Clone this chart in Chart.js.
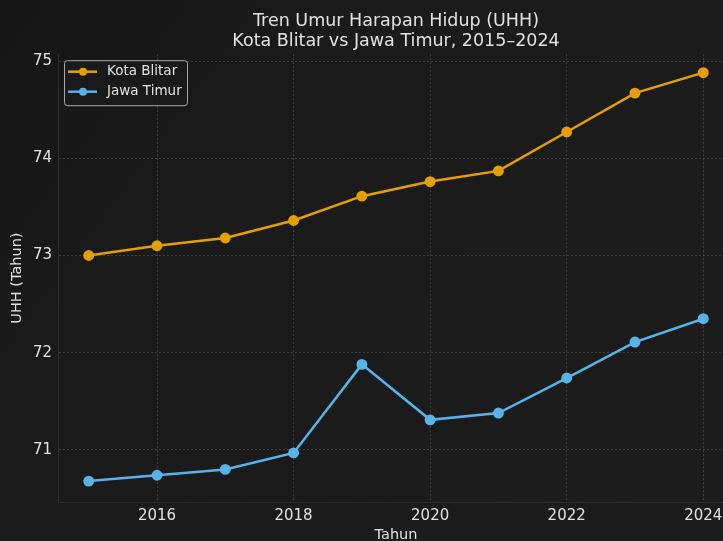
<!DOCTYPE html>
<html>
<head>
<meta charset="utf-8">
<title>Tren UHH Kota Blitar vs Jawa Timur</title>
<script src="https://cdn.jsdelivr.net/npm/chart.js@4.4.1/dist/chart.umd.min.js"></script>
<style>
  html, body { margin: 0; padding: 0; background: #1b1b1b; overflow: hidden; }
  #wrap { position: relative; width: 760px; height: 560px; }
</style>
</head>
<body>
<div id="wrap"><canvas id="uhhChart" width="760" height="560"></canvas></div>
<script>
// Data UHH (tahun)
const tahun = [2015, 2016, 2017, 2018, 2019, 2020, 2021, 2022, 2023, 2024];
const uhhBlitar = [73.00, 73.10, 73.18, 73.36, 73.61, 73.76, 73.87, 74.27, 74.67, 74.88];
const uhhJatim = [70.68, 70.74, 70.80, 70.97, 71.88, 71.31, 71.38, 71.74, 72.11, 72.35];
const xTicks = [2016, 2018, 2020, 2022, 2024];
const yTicks = [71, 72, 73, 74, 75];
const seriesNames = ['Kota Blitar', 'Jawa Timur'];
const seriesColors = ['#E69F00', '#56B4E9'];

const fontFamily = '"DejaVu Sans", sans-serif';
const textColor = '#e2e2e2';
const gridColor = 'rgba(100,100,100,0.5)';

// fondo oscuro con un degradado suave
const bgPlugin = {
    id: 'bg',
    beforeDraw(chart) {
        const c = chart.ctx;
        c.save();
        const g = c.createLinearGradient(0, 0, chart.width, chart.height);
        g.addColorStop(0, '#161616');
        g.addColorStop(0.35, '#1b1b1b');
        g.addColorStop(1, '#1c1c1c');
        c.fillStyle = g;
        c.fillRect(0, 0, chart.width, chart.height);
        c.restore();
    }
};

// leyenda con caja, dentro del area de datos (arriba a la izquierda)
const boxLegend = {
    id: 'boxLegend',
    afterDatasetsDraw(chart) {
        const c = chart.ctx;
        const x0 = chart.chartArea.left + 6;
        const y0 = chart.chartArea.top + 6;
        const w = 123, h = 45;
        c.save();
        c.beginPath();
        c.roundRect(x0 + 0.5, y0 + 0.5, w, h, 3);
        c.fillStyle = 'rgba(27,27,27,0.85)';
        c.fill();
        c.strokeStyle = '#a8a8a8';
        c.lineWidth = 1;
        c.stroke();
        c.font = '13.5px ' + fontFamily;
        c.textBaseline = 'middle';
        chart.data.datasets.forEach((ds, i) => {
            const cy = y0 + 11.5 + i * 20;
            c.strokeStyle = ds.borderColor;
            c.lineWidth = 2.5;
            c.beginPath();
            c.moveTo(x0 + 4, cy);
            c.lineTo(x0 + 33, cy);
            c.stroke();
            c.fillStyle = ds.borderColor;
            c.beginPath();
            c.arc(x0 + 19, cy, 4, 0, Math.PI * 2);
            c.fill();
            c.fillStyle = textColor;
            c.fillText(ds.label, x0 + 43, cy);
        });
        c.restore();
    }
};

function serie(nombre, color, valores) {
    return {
        label: nombre,
        data: tahun.map((t, i) => ({ x: t, y: valores[i] })),
        borderColor: color,
        backgroundColor: color,
        borderWidth: 2.5,
        pointRadius: 4.2,
        pointHoverRadius: 4.2,
        tension: 0
    };
}

const axisFont = { family: fontFamily, size: 15 };
const labelFont = { family: fontFamily, size: 14.5 };

const ctx = document.getElementById('uhhChart').getContext('2d');
const chart = new Chart(ctx, {
    type: 'line',
    data: {
        datasets: [
            serie(seriesNames[0], seriesColors[0], uhhBlitar),
            serie(seriesNames[1], seriesColors[1], uhhJatim)
        ]
    },
    options: {
        responsive: false,
        animation: false,
        layout: { padding: { left: 0, right: 26, top: 0, bottom: 0 } },
        plugins: {
            legend: { display: false },
            tooltip: { enabled: false },
            title: {
                display: true,
                fullSize: false,
                text: ['Tren Umur Harapan Hidup (UHH)', 'Kota Blitar vs Jawa Timur, 2015–2024'],
                color: textColor,
                font: { family: fontFamily, size: 17.5, weight: 'normal', lineHeight: 1.12 },
                padding: { top: 12, bottom: 3 }
            }
        },
        scales: {
            x: {
                type: 'linear',
                min: 2014.55,
                max: 2024.45,
                afterBuildTicks(scale) { scale.ticks = xTicks.map(v => ({ value: v })); },
                afterFit(scale) { scale.height = 58; },
                ticks: {
                    color: textColor,
                    font: axisFont,
                    padding: 5,
                    maxRotation: 0,
                    callback: v => String(v)
                },
                grid: { color: gridColor, drawTicks: false, lineWidth: 1 },
                border: { display: true, color: '#2c2c2c', dash: [2, 2] },
                title: {
                    display: true,
                    text: 'Tahun',
                    color: textColor,
                    font: labelFont,
                    padding: { top: 0, bottom: 16 }
                }
            },
            y: {
                type: 'linear',
                min: 70.465,
                max: 75.07,
                afterBuildTicks(scale) { scale.ticks = yTicks.map(v => ({ value: v })); },
                afterFit(scale) { scale.width = 58; },
                ticks: {
                    color: textColor,
                    font: axisFont,
                    padding: 6,
                    callback: v => String(v)
                },
                grid: { color: gridColor, drawTicks: false, lineWidth: 1 },
                border: { display: true, color: '#2c2c2c', dash: [2, 2] },
                title: {
                    display: true,
                    text: 'UHH (Tahun)',
                    color: textColor,
                    font: labelFont,
                    padding: { top: 9, bottom: 0 }
                }
            }
        }
    },
    plugins: [bgPlugin, boxLegend]
});
</script>
</body>
</html>
